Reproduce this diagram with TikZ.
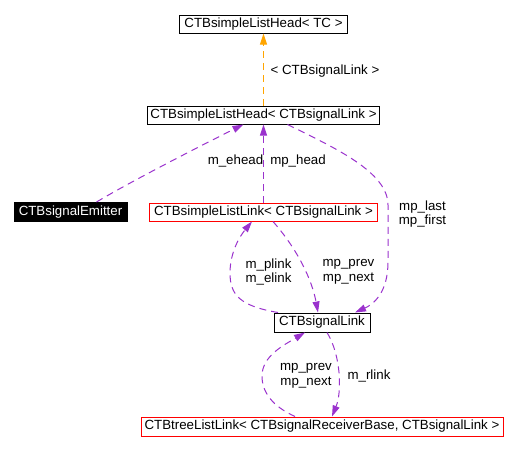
\documentclass[tikz,border=0pt]{standalone}
\usepackage{fontspec}
\setmainfont{Liberation Sans}
\usetikzlibrary{arrows.meta}
\definecolor{usecol}{HTML}{9A32CD}
\definecolor{tmplcol}{HTML}{FFA500}
\tikzset{
  box/.style={draw=black, line width=1pt, inner sep=0pt, minimum height=18pt, font=\fontsize{13.3}{14.5}\selectfont},
  redbox/.style={box, draw=red},
  blackbox/.style={box, fill=black, text=white},
  usage/.style={draw=usecol, line width=1pt, dash pattern=on 7pt off 5pt, -{Triangle[length=11pt,width=7pt,fill=usecol]}},
  tmpl/.style={draw=tmplcol, line width=1pt, dash pattern=on 7pt off 5pt, -{Triangle[length=11pt,width=7pt,fill=tmplcol]}},
  lbl/.style={font=\fontsize{13.3}{14.5}\selectfont, align=center, inner sep=0pt}
}
\begin{document}
\begin{tikzpicture}[x=1pt,y=-1pt]
\useasboundingbox (0,0) rectangle (517,451);
\node[box, minimum width=168pt] (tc) at (263.5,24) {CTBsimpleListHead< TC >};
\node[box, minimum width=232pt] (head) at (263.5,115) {CTBsimpleListHead< CTBsignalLink >};
\node[blackbox, minimum width=113pt, minimum height=19pt] (emit) at (70.5,212) {CTBsignalEmitter};
\node[redbox, minimum width=228pt] (slink) at (263.5,212) {CTBsimpleListLink< CTBsignalLink >};
\node[box, minimum width=96pt, minimum height=19pt] (sig) at (322,322.5) {CTBsignalLink};
\node[redbox, minimum width=362pt, minimum height=19pt] (tree) at (322,426.5) {CTBtreeListLink< CTBsignalReceiverBase, CTBsignalLink >};

\draw[tmpl] (head.north) -- (tc.south);
\node[lbl] (l1) at (325,71) {< CTBsignalLink >};

\draw[usage] ([xshift=26pt]emit.north) .. controls (130,182) and (200,146) .. ([xshift=-20pt]head.south);
\node[lbl] (l2) at (235.5,161) {m\_ehead};
\draw[usage] (slink.north) -- (slink.north |- head.south);
\node[lbl] (l3) at (298,161) {mp\_head};

\draw[usage] ([xshift=24pt]head.south) .. controls (335,148) and (388,172) .. (388,205) -- (388,262) .. controls (388,292) and (374,304) .. ([xshift=33pt]sig.north);
\node[lbl] (l4) at (422.5,214) {mp\_last\\mp\_first};

\draw[usage] ([xshift=-44pt]sig.north) .. controls (240,306) and (230,295) .. (230,273) .. controls (230,252) and (240,236) .. ([xshift=-11.5pt]slink.south);
\node[lbl] (l5) at (268.5,272) {m\_plink\\m\_elink};

\draw[usage] ([xshift=9.5pt]slink.south) .. controls (298,250) and (312,280) .. ([xshift=-4pt]sig.north);
\node[lbl] (l6) at (348.5,272) {mp\_prev\\mp\_next};

\draw[usage] ([xshift=-27pt]tree.north) .. controls (272,406) and (262,392) .. (262,376) .. controls (262,356) and (284,345) .. ([xshift=-17pt]sig.south);
\node[lbl] (l7) at (306,376) {mp\_prev\\mp\_next};

\draw[usage] ([xshift=5pt]sig.south) .. controls (341,355) and (342,392) .. ([xshift=10pt]tree.north);
\node[lbl] (l8) at (369,376) {m\_rlink};
\end{tikzpicture}
\end{document}
